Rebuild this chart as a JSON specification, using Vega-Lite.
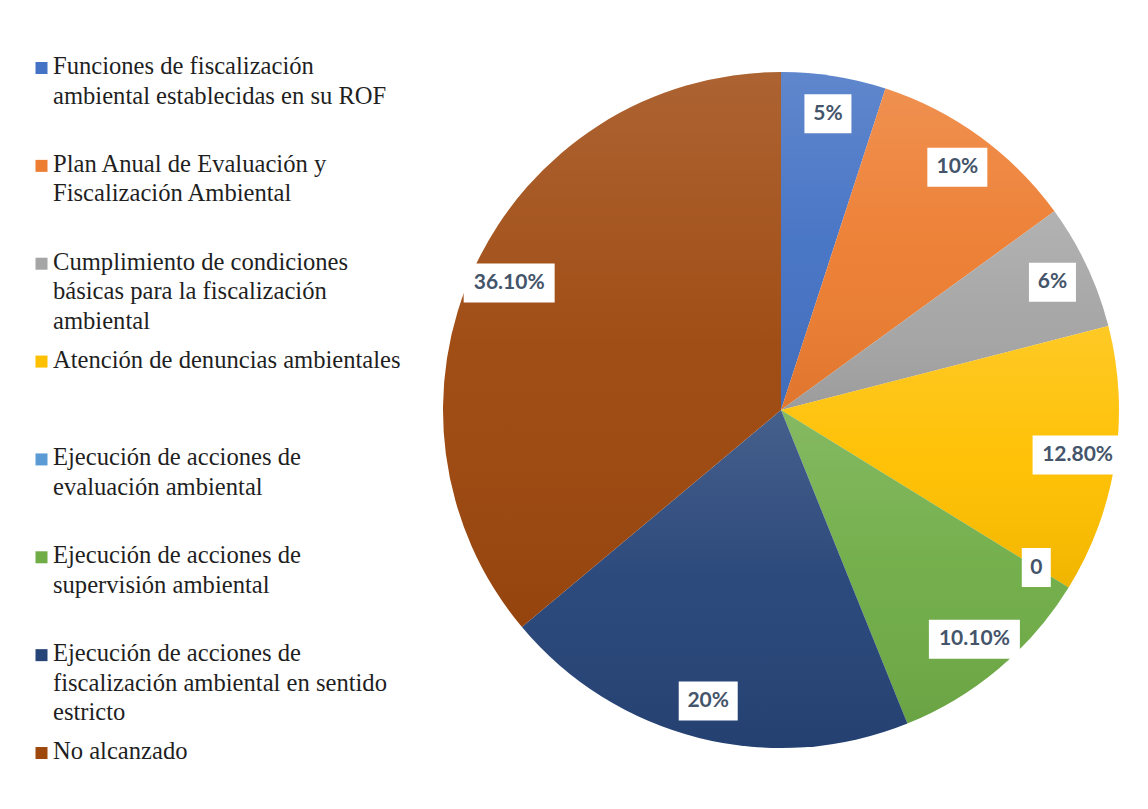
{
  "$schema": "https://vega.github.io/schema/vega-lite/v6.json",
  "background": "white",
  "padding": {"left": 0, "top": 40, "right": 0, "bottom": 0},
  "spacing": 360,
  "bounds": "flush",
  "config": {"view": {"stroke": null}},
  "data": {
    "values": [
      {"cat": "Funciones de fiscalización\nambiental establecidas en su ROF", "value": 5, "label": "5%"},
      {"cat": "Plan Anual de Evaluación y\nFiscalización Ambiental", "value": 10, "label": "10%"},
      {"cat": "Cumplimiento de condiciones\nbásicas para la fiscalización\nambiental", "value": 6, "label": "6%"},
      {"cat": "Atención de denuncias ambientales", "value": 12.8, "label": "12.80%"},
      {"cat": "Ejecución de acciones de\nevaluación ambiental", "value": 0, "label": "0"},
      {"cat": "Ejecución de acciones de\nsupervisión ambiental", "value": 10.1, "label": "10.10%"},
      {"cat": "Ejecución de acciones de\nfiscalización ambiental en sentido\nestricto", "value": 20, "label": "20%"},
      {"cat": "No alcanzado", "value": 36.1, "label": "36.10%"}
    ]
  },
  "hconcat": [
    {
      "width": 83,
      "height": 740,
      "layer": [
        {
          "mark": {"type": "square", "size": 144, "opacity": 1, "filled": true},
          "encoding": {
            "y": {"field": "cat", "type": "nominal", "sort": null, "axis": null, "scale": {"type": "point", "range": [28, 713], "padding": 0}},
            "color": {
              "field": "cat", "type": "nominal", "legend": null,
              "scale": {
                "domain": [
                  "Funciones de fiscalización\nambiental establecidas en su ROF",
                  "Plan Anual de Evaluación y\nFiscalización Ambiental",
                  "Cumplimiento de condiciones\nbásicas para la fiscalización\nambiental",
                  "Atención de denuncias ambientales",
                  "Ejecución de acciones de\nevaluación ambiental",
                  "Ejecución de acciones de\nsupervisión ambiental",
                  "Ejecución de acciones de\nfiscalización ambiental en sentido\nestricto",
                  "No alcanzado"
                ],
                "range": ["#4472C4", "#ED7D31", "#A5A5A5", "#FFC000", "#5B9BD5", "#70AD47", "#264478", "#9E480E"]
              }
            }
          }
        },
        {
          "mark": {"type": "text", "align": "left", "baseline": "alphabetic", "dx": 11.5, "dy": 6, "font": "Liberation Serif", "fontSize": 24.6, "lineBreak": "\n", "lineHeight": 29.5, "color": "#1f1f1f"},
          "encoding": {
            "y": {"field": "cat", "type": "nominal", "sort": null, "axis": null, "scale": {"type": "point", "range": [28, 713], "padding": 0}},
            "text": {"field": "cat", "type": "nominal"}
          }
        }
      ]
    },
    {
      "width": 676,
      "height": 740,
      "transform": [
        {"window": [{"op": "row_number", "as": "rank"}]},
        {"stack": "value", "groupby": [], "sort": [{"field": "rank", "order": "ascending"}], "as": ["v0", "v1"]},
        {"joinaggregate": [{"op": "sum", "field": "value", "as": "total"}]},
        {"calculate": "PI * (datum.v0 + datum.v1) / datum.total", "as": "ang"},
        {"calculate": "sin(datum.ang)", "as": "lx"},
        {"calculate": "cos(datum.ang)", "as": "ly"}
      ],
      "layer": [
        {
          "mark": {"type": "arc"},
          "encoding": {
            "theta": {"field": "value", "type": "quantitative", "stack": true},
            "order": {"field": "rank", "type": "quantitative"},
            "color": {"field": "cat", "type": "nominal", "legend": null}
          }
        },
        {
          "mark": {
            "type": "arc",
            "fill": {
              "gradient": "linear", "x1": 0, "y1": 0, "x2": 0, "y2": 1,
              "stops": [
                {"offset": 0, "color": "rgba(255,255,255,0.15)"},
                {"offset": 0.5, "color": "rgba(255,255,255,0.03)"},
                {"offset": 1, "color": "rgba(0,0,0,0.06)"}
              ]
            }
          },
          "encoding": {
            "theta": {"field": "value", "type": "quantitative", "stack": true},
            "order": {"field": "rank", "type": "quantitative"}
          }
        },
        {
          "mark": {"type": "point", "filled": true, "fill": "white", "opacity": 1, "size": 8281, "strokeWidth": 0},
          "encoding": {
            "x": {"field": "lx", "type": "quantitative", "axis": null, "scale": {"domain": [-1.1267, 1.1267], "nice": false, "zero": false}},
            "y": {"field": "ly", "type": "quantitative", "axis": null, "scale": {"domain": [-1.2333, 1.2333], "nice": false, "zero": false}},
            "shape": {
              "field": "label", "type": "nominal", "legend": null,
              "scale": {
                "domain": ["5%", "10%", "6%", "12.80%", "0", "10.10%", "20%", "36.10%"],
                "range": [
                  "M-0.5165,-0.4286L0.5165,-0.4286L0.5165,0.4286L-0.5165,0.4286Z",
                  "M-0.6593,-0.4286L0.6593,-0.4286L0.6593,0.4286L-0.6593,0.4286Z",
                  "M-0.5165,-0.4286L0.5165,-0.4286L0.5165,0.4286L-0.5165,0.4286Z",
                  "M-0.989,-0.4286L0.989,-0.4286L0.989,0.4286L-0.989,0.4286Z",
                  "M-0.3187,-0.4286L0.3187,-0.4286L0.3187,0.4286L-0.3187,0.4286Z",
                  "M-1,-0.4286L1,-0.4286L1,0.4286L-1,0.4286Z",
                  "M-0.6484,-0.4286L0.6484,-0.4286L0.6484,0.4286L-0.6484,0.4286Z",
                  "M-1,-0.4286L1,-0.4286L1,0.4286L-1,0.4286Z"
                ]
              }
            }
          }
        },
        {
          "mark": {"type": "text", "font": "Lato", "fontWeight": "bold", "fontSize": 21, "color": "#44546A", "align": "center", "baseline": "middle"},
          "encoding": {
            "x": {"field": "lx", "type": "quantitative", "axis": null, "scale": {"domain": [-1.1267, 1.1267], "nice": false, "zero": false}},
            "y": {"field": "ly", "type": "quantitative", "axis": null, "scale": {"domain": [-1.2333, 1.2333], "nice": false, "zero": false}},
            "text": {"field": "label", "type": "nominal"}
          }
        }
      ]
    }
  ]
}
